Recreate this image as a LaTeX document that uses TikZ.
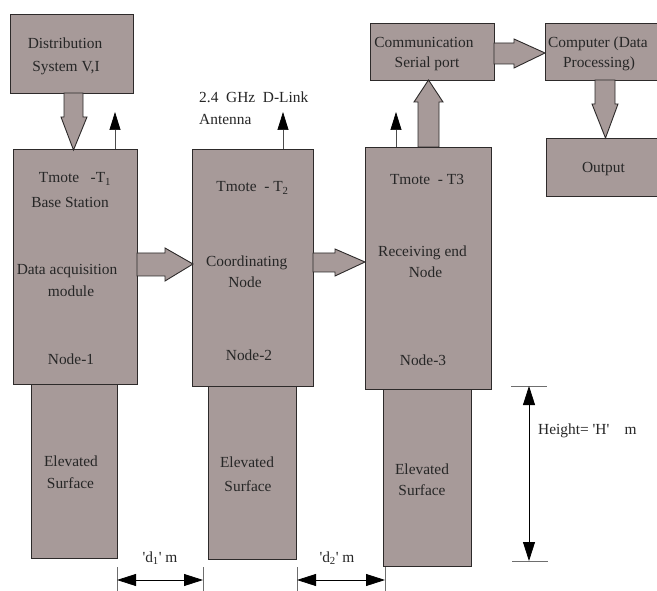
\documentclass[tikz,border=0pt]{standalone}
\usepackage{fontspec}
\setmainfont{Liberation Serif}
\usetikzlibrary{arrows.meta}
\definecolor{boxfill}{RGB}{167,154,153}
\definecolor{edge}{RGB}{45,42,42}
\definecolor{tick}{RGB}{110,110,110}
\begin{document}
\begin{tikzpicture}[x=1pt,y=-1pt,
  box/.style={draw=edge,fill=boxfill,line width=0.9pt,inner sep=0pt,anchor=north west},
  txt/.style={inner sep=0pt,anchor=base,font=\fontsize{15.4}{22}\selectfont,text=black!85},
  txtl/.style={txt,anchor=base west},
  blockarrow/.style={draw=edge,fill=boxfill,line width=0.9pt,line join=miter},
  thinarrow/.style={draw=black!70,line width=0.7pt,-{Triangle[length=18pt,width=11pt,color=black,fill=black]}},
  dimarrow/.style={draw=black,line width=0.8pt,{Triangle[length=19pt,width=12pt]}-{Triangle[length=19pt,width=12pt]}},
  ticks/.style={draw=tick,line width=0.8pt}]
\useasboundingbox (0,0) rectangle (657,591);
\fill[white] (0,0) rectangle (657,591);
% elevated surfaces
\node[box,minimum width=86pt,minimum height=174pt] (e1) at (31,384) {};
\node[box,minimum width=88pt,minimum height=173pt] (e2) at (208,386) {};
\node[box,minimum width=88pt,minimum height=177pt] (e3) at (383,389) {};
% main boxes
\node[box,minimum width=123pt,minimum height=79pt] (dist) at (10,14) {};
\node[box,minimum width=124pt,minimum height=235pt] (n1) at (13,149) {};
\node[box,minimum width=121pt,minimum height=237pt] (n2) at (192,149) {};
\node[box,minimum width=126pt,minimum height=242pt] (n3) at (365,147) {};
\node[box,minimum width=124pt,minimum height=57pt] (comm) at (370,23) {};
\node[box,minimum width=117pt,minimum height=57pt] (comp) at (545,23) {};
\node[box,minimum width=116pt,minimum height=58pt] (out) at (546,138) {};
% block arrows
\draw[blockarrow] (64,93) -- (64,117) -- (61,117) -- (73.5,150) -- (87,117) -- (83,117) -- (83,93) -- cycle;
\draw[blockarrow] (137,253) -- (165,253) -- (165,248) -- (193,264) -- (165,281) -- (165,276) -- (137,276) -- cycle;
\draw[blockarrow] (313,253) -- (335,253) -- (335,249) -- (365,262) -- (335,276) -- (335,272) -- (313,272) -- cycle;
\draw[blockarrow] (418,147) -- (418,102) -- (414,102) -- (428.5,80) -- (443,102) -- (439,102) -- (439,147) -- cycle;
\draw[blockarrow] (494,43) -- (514,43) -- (514,39) -- (545,53) -- (514,68) -- (514,64) -- (494,64) -- cycle;
\draw[blockarrow] (595,80) -- (595,104) -- (592,104) -- (605.5,138) -- (618,104) -- (615,104) -- (615,80) -- cycle;
% antenna arrows
\coordinate (a1) at (115,112);
\coordinate (a2) at (283,112);
\coordinate (a3) at (396,112);
\draw[thinarrow] (n1.north -| a1) -- (a1);
\draw[thinarrow] (n2.north -| a2) -- (a2);
\draw[thinarrow] (n3.north -| a3) -- (a3);
% texts
\node[txt] (t1) at (65,49) {Distribution};
\node[txt] (t2) at (66,72) {System V,I};
\node[txtl] (t3) at (199,103) {2.4\ \ GHz\ \ D-Link};
\node[txtl] (t4) at (199,125) {Antenna};
\node[txt] (t5) at (424,48) {Communication};
\node[txt] (t6) at (427,68) {Serial port};
\node[txt] (t7) at (598,48) {Computer (Data};
\node[txt] (t8) at (599,68) {Processing)};
\node[txt] (t9) at (603.5,173) {Output};
\node[txt] (n1a) at (75,183) {Tmote\ \ \ -T\textsubscript{1}};
\node[txt] (n1b) at (70,208) {Base Station};
\node[txt] (n1c) at (67,275) {Data acquisition};
\node[txt] (n1d) at (71,297) {module};
\node[txt] (n1e) at (71,364) {Node-1};
\node[txt] (n2a) at (252.5,192) {Tmote\ \ -\ T\textsubscript{2}};
\node[txt] (n2b) at (246.7,267) {Coordinating};
\node[txt] (n2c) at (245,288) {Node};
\node[txt] (n2d) at (249,360) {Node-2};
\node[txt] (n3a) at (427,185) {Tmote\ \ -\ T3};
\node[txt] (n3b) at (422.5,257) {Receiving end};
\node[txt] (n3c) at (425.5,278) {Node};
\node[txt] (n3d) at (423,366) {Node-3};
\node[txt] (e1a) at (71,466) {Elevated};
\node[txt] (e1b) at (70.5,488) {Surface};
\node[txt] (e2a) at (247,467) {Elevated};
\node[txt] (e2b) at (248,491) {Surface};
\node[txt] (e3a) at (422,474) {Elevated};
\node[txt] (e3b) at (422,495) {Surface};
% height dimension
\coordinate (h1) at (511,386);
\coordinate (h2) at (547,386);
\coordinate (h3) at (512,561);
\coordinate (h4) at (548,561);
\coordinate (hv1) at (529,386);
\coordinate (hv2) at (529,561);
\draw[ticks] (h1) -- (h2);
\draw[ticks] (h3) -- (h4);
\draw[dimarrow] (hv1) -- (hv2);
\node[txtl] (ht) at (538,434) {Height= \textquotesingle H\textquotesingle\ \ \ \ m};
% distance dimensions
\coordinate (d1a) at (117,567);
\coordinate (d1b) at (203,567);
\coordinate (d2a) at (297,567);
\coordinate (d2b) at (385,567);
\draw[ticks] (d1a) -- ++(0,26);
\draw[ticks] (d1b) -- ++(0,26);
\draw[ticks] (d2a) -- ++(0,26);
\draw[ticks] (d2b) -- ++(0,26);
\draw[dimarrow] ([yshift=-13pt]d1a) -- ([yshift=-13pt]d1b);
\draw[dimarrow] ([yshift=-13pt]d2a) -- ([yshift=-13pt]d2b);
\node[txt] (d1t) at (160,562) {\textquotesingle d\textsubscript{1}\textquotesingle\ m};
\node[txt] (d2t) at (337,562) {\textquotesingle d\textsubscript{2}\textquotesingle\ m};
\end{tikzpicture}
\end{document}
